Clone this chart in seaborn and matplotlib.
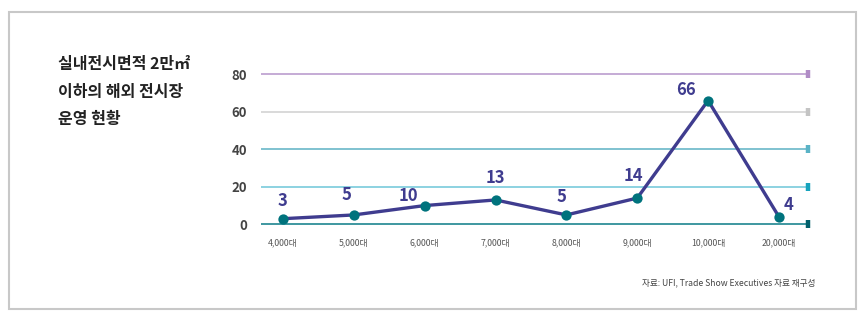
import matplotlib
matplotlib.use("Agg")
import matplotlib.pyplot as plt
import seaborn as sns
import pandas as pd
from matplotlib.patches import Rectangle

# ---- data ----
categories = ["4,000대", "5,000대", "6,000대", "7,000대", "8,000대", "9,000대", "10,000대", "20,000대"]
values = [3, 5, 10, 13, 5, 14, 66, 4]
y_ticks = [0, 20, 40, 60, 80]
title_lines = ["실내전시면적 2만㎡", "이하의 해외 전시장", "운영 현황"]
source_text = "자료: UFI, Trade Show Executives 자료 재구성"

# ---- styles ----
grid_colors = ["#0a7a86", "#6dc6d8", "#5db2c4", "#cfcfcf", "#b595ca"]
cap_colors = ["#005f6b", "#17a3bd", "#5ab3c6", "#c4c4c4", "#b08cc6"]
label_offsets = [(0, 18), (-7, 20), (-16, 10), (0, 22), (-5, 18), (-4, 22), (-22, 11), (10, 12)]
LINE_C = "#3f3c8f"
MARK_C = "#00737d"

sns.set_theme(style="white")
plt.rcParams["font.family"] = ["Noto Sans CJK KR", "DejaVu Sans"]

df = pd.DataFrame({"cat": categories, "val": values})

fig = plt.figure(figsize=(8.66, 3.25), dpi=100)
ax = fig.add_axes([261 / 866, (325 - 233.7) / 325, (808 - 261) / 866, (233.7 - 64.9) / 325])

# gridlines
for yv, gc in zip(y_ticks, grid_colors):
    ax.axhline(yv, color=gc, lw=1.1, zorder=1)

sns.lineplot(data=df, x="cat", y="val", sort=False, ax=ax, color=LINE_C, lw=2.4,
             zorder=3)
sns.scatterplot(data=df, x="cat", y="val", ax=ax, color=MARK_C, s=55, zorder=4,
                edgecolor=MARK_C, linewidth=0)

x_right = 7.41
ax.set_xlim(-0.31, x_right)
ax.set_ylim(-5, 85)

for yv, cc in zip(y_ticks, cap_colors):
    ax.plot([x_right], [yv], marker="|", ms=6, mew=3.2, color=cc, clip_on=False, zorder=5)

for i, (v, off) in enumerate(zip(values, label_offsets)):
    ax.annotate(str(v), (i, v), xytext=(off[0], off[1]), textcoords="offset pixels",
                ha="center", va="center", fontsize=12, color=LINE_C, fontweight="bold")

for s in ax.spines.values():
    s.set_visible(False)
ax.set_yticks(y_ticks)
ax.set_yticklabels([str(t) for t in y_ticks], fontsize=9.5, color="#444444", fontweight="bold")
ax.tick_params(axis="y", length=0, pad=10)
ax.tick_params(axis="x", length=0, pad=3, labelsize=6.3, labelcolor="#555555")
ax.set_xlabel("")
ax.set_ylabel("")
ax.grid(False)

# title
ty = [64, 92, 119]
for line, y in zip(title_lines, ty):
    fig.text(58 / 866, 1 - y / 325, line, fontsize=11.5, fontweight="bold", color="#222222",
             ha="left", va="center")

fig.text(815 / 866, 1 - 283 / 325, source_text, fontsize=6.2, color="#444444",
         ha="right", va="center")

# frame
fig.patches.append(Rectangle((9 / 866, (325 - 309) / 325), 847 / 866, 297 / 325,
                             transform=fig.transFigure, fill=False, edgecolor="#c8c8c8", lw=1.5))

fig.savefig("out.png", dpi=100)
